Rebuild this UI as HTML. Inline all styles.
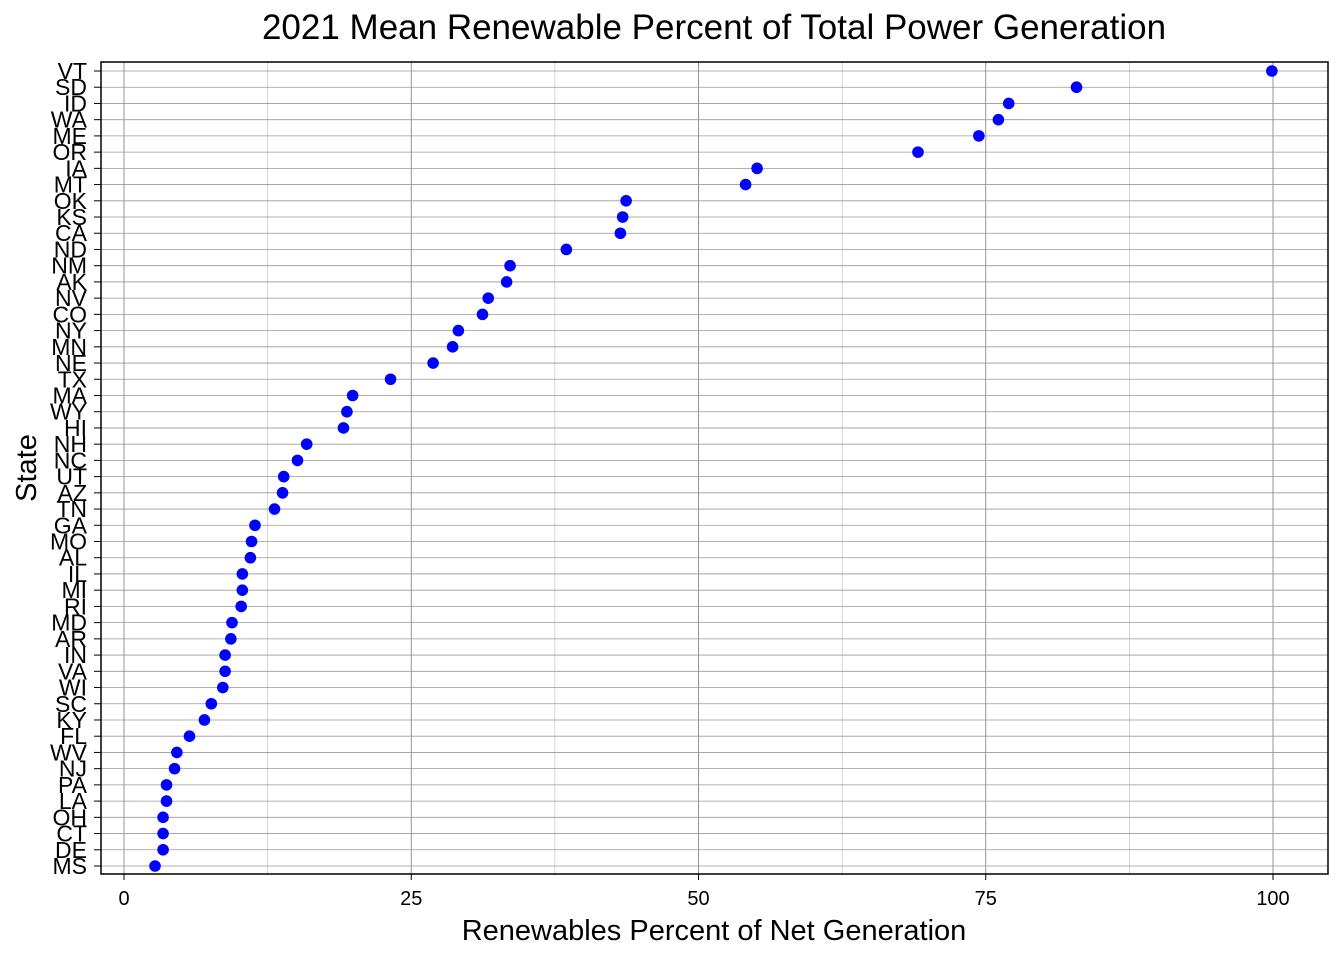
<!DOCTYPE html>
<html><head><meta charset="utf-8"><style>
body{margin:0;background:#fff;}
svg text{font-family:"Liberation Sans",Arial,sans-serif;}
</style></head><body>
<svg id="chart" width="1344" height="960" xmlns="http://www.w3.org/2000/svg">
<rect width="1344" height="960" fill="#fff"/>
<text x="714" y="39" font-size="35" text-anchor="middle">2021 Mean Renewable Percent of Total Power Generation</text>
<text x="714" y="940" font-size="29" text-anchor="middle">Renewables Percent of Net Generation</text>
<text transform="translate(36,468) rotate(-90)" font-size="29" text-anchor="middle">State</text>
<g id="grid"></g><g id="points"></g><g id="axes"></g>
</svg>
<script>
const states=["VT","SD","ID","WA","ME","OR","IA","MT","OK","KS","CA","ND","NM","AK","NV","CO","NY","MN","NE","TX","MA","WY","HI","NH","NC","UT","AZ","TN","GA","MO","AL","IL","MI","RI","MD","AR","IN","VA","WI","SC","KY","FL","WV","NJ","PA","LA","OH","CT","DE","MS"];
const values=[99.9,82.9,77.0,76.1,74.4,69.1,55.1,54.1,43.7,43.4,43.2,38.5,33.6,33.3,31.7,31.2,29.1,28.6,26.9,23.2,19.9,19.4,19.1,15.9,15.1,13.9,13.8,13.1,11.4,11.1,11.0,10.3,10.3,10.2,9.4,9.3,8.8,8.8,8.6,7.6,7.0,5.7,4.6,4.4,3.7,3.7,3.4,3.4,3.4,2.7];
const xTicks=[0,25,50,75,100];
const L=101,R=1328,T=62,B=874;
const x=v=>124+v*11.49;
const y=i=>71+i*(866-71)/(states.length-1);
const NS="http://www.w3.org/2000/svg";
function mk(tag,attrs,parent){const e=document.createElementNS(NS,tag);for(const k in attrs)e.setAttribute(k,attrs[k]);document.getElementById(parent).appendChild(e);return e;}
for(let k=0;k<xTicks.length;k++){
 const v=xTicks[k];
 const g=mk('line',{x1:x(v),x2:x(v),y1:T,y2:B,stroke:'#888','stroke-width':0.9},'grid');
 
 
 if(k<xTicks.length-1){const m=mk('line',{x1:x(v+12.5),x2:x(v+12.5),y1:T,y2:B,stroke:'#bbb','stroke-width':0.6},'grid');
 
 }
 const tk=mk('line',{x1:x(v),x2:x(v),y1:B,y2:B+6,stroke:'#000','stroke-width':1},'axes');
 
 
 const t=mk('text',{x:x(v),y:B+31,'font-size':20,'text-anchor':'middle',fill:'#000'},'axes');
 t.textContent=v;
 
 
}
states.forEach((s,i)=>{
 const g=mk('line',{x1:L,x2:R,y1:y(i),y2:y(i),stroke:'#999','stroke-width':0.8},'grid');
 
 
 const tk=mk('line',{x1:L-7,x2:L,y1:y(i),y2:y(i),stroke:'#000','stroke-width':1},'axes');
 
 
 const t=mk('text',{x:L-14,y:y(i)+8,'font-size':23,'text-anchor':'end',fill:'#000'},'axes');
 t.textContent=s;
 
 
 const c=mk('circle',{cx:x(values[i]),cy:y(i),r:5.8,fill:'#0000ff'},'points');
 
 
});
const fr=mk('rect',{x:L,y:T,width:R-L,height:B-T,fill:'none',stroke:'#000','stroke-width':1.5},'axes');


</script>
</body></html>
